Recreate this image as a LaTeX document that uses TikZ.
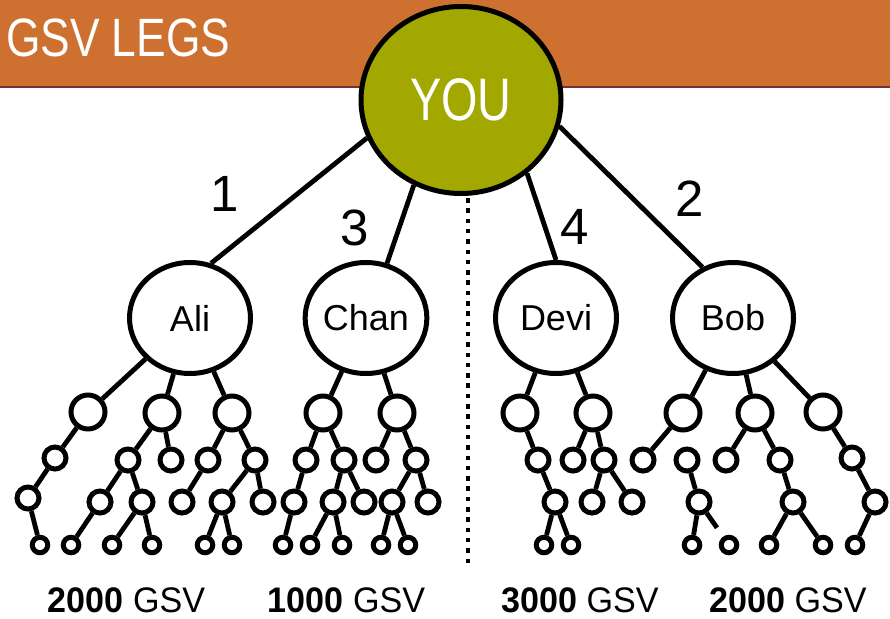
\documentclass[tikz,border=0pt]{standalone}
\usepackage{fontspec}
\setmainfont{Liberation Sans}
\newfontfamily\condfont[FakeStretch=0.78]{Liberation Sans}
\newfontfamily\titlefont[FakeStretch=0.82]{Liberation Sans}
\newfontfamily\totalfont[FakeStretch=0.96]{Liberation Sans}
\usetikzlibrary{shapes.geometric,calc}
\definecolor{hdr}{RGB}{205,112,48}
\definecolor{hdrline}{RGB}{120,45,55}
\definecolor{olive}{RGB}{162,168,0}
\begin{document}
\begin{tikzpicture}[x=1pt,y=-1pt,
  nd/.style={draw,line width=5pt,circle,inner sep=0pt,fill=white},
  lone/.style={nd,minimum size=34pt},
  ltwo/.style={nd,minimum size=22pt},
  lfour/.style={nd,minimum size=15.5pt},
  person/.style={draw,line width=5pt,ellipse,inner sep=0pt,minimum width=121pt,minimum height=111pt,font=\fontsize{36}{40}\selectfont},
  edge/.style={line width=4.8pt},
  num/.style={font=\fontsize{51}{55}\selectfont,inner sep=0pt},
  total/.style={font=\totalfont\fontsize{35.5}{40}\selectfont,inner sep=0pt}]
\useasboundingbox (0,0) rectangle (890,618);
% header
\fill[hdr] (0,0) rectangle (890,86);
\draw[hdrline,line width=2.5pt] (0,87) -- (890,87);
\node[anchor=west,text=white,font=\titlefont\fontsize{54}{60}\selectfont,inner sep=0pt] (title) at (6,38) {GSV LEGS};
% root
\node[ellipse,draw,line width=5pt,fill=olive,minimum width=200pt,minimum height=187pt,inner sep=0pt,text=white,font=\condfont\fontsize{60}{66}\selectfont] (you) at (461,100) {YOU};
% legs
\node[person] (ali) at (190,318) {Ali};
\node[person] (chan) at (366,318) {Chan};
\node[person] (devi) at (556,318) {Devi};
\node[person] (bob) at (733,318) {Bob};
\draw[edge] (you.-158) -- (ali.69);
\draw[edge] (you.-119) -- (chan.69);
\draw[edge] (you.-48) -- (devi.90);
\draw[edge] (you.-15) -- (bob.121);
\node[num] (n1) at (225,194) {1};
\node[num] (n3) at (355,228) {3};
\node[num] (n4) at (575,227) {4};
\node[num] (n2) at (690,199) {2};
% divider
\coordinate (dtop) at (468,198);
\coordinate (dbot) at (468,566);
\draw[line width=4.5pt,dash pattern=on 4.5pt off 5.8pt] (dtop) -- (dbot);
% Ali subtree
\node[lone] (a1) at (88,412) {};
\node[lone] (a2) at (162,413) {};
\node[lone] (a3) at (232,413) {};
\node[ltwo] (a11) at (55,458) {};
\node[ltwo] (a111) at (28,498) {};
\node[lfour] (a1111) at (40,545) {};
\node[ltwo] (a21) at (128,460) {};
\node[ltwo] (a22) at (171,460) {};
\node[ltwo] (a211) at (100,502) {};
\node[lfour] (a2111) at (71,545) {};
\node[ltwo] (a212) at (142,502) {};
\node[lfour] (a2121) at (112,545) {};
\node[lfour] (a2122) at (152,545) {};
\node[ltwo] (a31) at (208,460) {};
\node[ltwo] (a311) at (182,502) {};
\node[ltwo] (a32) at (255,460) {};
\node[ltwo] (a321) at (222,502) {};
\node[lfour] (a3211) at (205,545) {};
\node[lfour] (a3212) at (232,545) {};
\node[ltwo] (a322) at (263,502) {};
\draw[edge] (ali) -- (a1);
\draw[edge] (ali) -- (a2);
\draw[edge] (ali) -- (a3);
\draw[edge] (a1) -- (a11);
\draw[edge] (a11) -- (a111);
\draw[edge] (a111) -- (a1111);
\draw[edge] (a2) -- (a21);
\draw[edge] (a2) -- (a22);
\draw[edge] (a21) -- (a211);
\draw[edge] (a211) -- (a2111);
\draw[edge] (a21) -- (a212);
\draw[edge] (a212) -- (a2121);
\draw[edge] (a212) -- (a2122);
\draw[edge] (a3) -- (a31);
\draw[edge] (a31) -- (a311);
\draw[edge] (a3) -- (a32);
\draw[edge] (a32) -- (a321);
\draw[edge] (a321) -- (a3211);
\draw[edge] (a321) -- (a3212);
\draw[edge] (a32) -- (a322);
% Chan subtree
\node[lone] (c1) at (323,413) {};
\node[lone] (c2) at (397,413) {};
\node[ltwo] (c11) at (306,460) {};
\node[ltwo] (c111) at (294,502) {};
\node[lfour] (c1111) at (283,545) {};
\node[ltwo] (c12) at (344,460) {};
\node[ltwo] (c121) at (333,502) {};
\node[lfour] (c1211) at (310,545) {};
\node[lfour] (c1212) at (342,545) {};
\node[ltwo] (c122) at (364,502) {};
\node[ltwo] (c21) at (376,460) {};
\node[ltwo] (c22) at (416,460) {};
\node[ltwo] (c221) at (392,502) {};
\node[lfour] (c2211) at (381,545) {};
\node[lfour] (c2212) at (408,545) {};
\node[ltwo] (c222) at (428,502) {};
\draw[edge] (chan) -- (c1);
\draw[edge] (chan) -- (c2);
\draw[edge] (c1) -- (c11);
\draw[edge] (c11) -- (c111);
\draw[edge] (c111) -- (c1111);
\draw[edge] (c1) -- (c12);
\draw[edge] (c12) -- (c121);
\draw[edge] (c121) -- (c1211);
\draw[edge] (c121) -- (c1212);
\draw[edge] (c12) -- (c122);
\draw[edge] (c2) -- (c21);
\draw[edge] (c2) -- (c22);
\draw[edge] (c22) -- (c221);
\draw[edge] (c221) -- (c2211);
\draw[edge] (c221) -- (c2212);
\draw[edge] (c22) -- (c222);
% Devi subtree
\node[lone] (d1) at (520,413) {};
\node[ltwo] (d11) at (538,460) {};
\node[ltwo] (d111) at (555,502) {};
\node[lfour] (d1111) at (544,545) {};
\node[lfour] (d1112) at (571,545) {};
\node[lone] (d2) at (593,413) {};
\node[ltwo] (d21) at (573,460) {};
\node[ltwo] (d22) at (604,460) {};
\node[ltwo] (d221) at (592,502) {};
\node[ltwo] (d222) at (632,502) {};
\draw[edge] (devi) -- (d1);
\draw[edge] (d1) -- (d11);
\draw[edge] (d11) -- (d111);
\draw[edge] (d111) -- (d1111);
\draw[edge] (d111) -- (d1112);
\draw[edge] (devi) -- (d2);
\draw[edge] (d2) -- (d21);
\draw[edge] (d2) -- (d22);
\draw[edge] (d22) -- (d221);
\draw[edge] (d22) -- (d222);
% Bob subtree
\node[lone] (b1) at (683,413) {};
\node[ltwo] (b11) at (643,460) {};
\node[ltwo] (o1) at (687,460) {};
\node[ltwo] (o11) at (699,502) {};
\node[lfour] (o111) at (692,545) {};
\node[lfour] (o12) at (729,545) {};
\node[lone] (b2) at (755,413) {};
\node[ltwo] (b21) at (726,460) {};
\node[ltwo] (b22) at (780,460) {};
\node[ltwo] (b221) at (793,502) {};
\node[lfour] (b2211) at (769,545) {};
\node[lfour] (b2212) at (823,545) {};
\node[lone] (b3) at (823,412) {};
\node[ltwo] (b31) at (852,458) {};
\node[ltwo] (b311) at (875,502) {};
\node[lfour] (b3111) at (855,545) {};
\draw[edge] (bob) -- (b1);
\draw[edge] (b1) -- (b11);
\draw[edge] (o1) -- (o11);
\draw[edge] (o11) -- (o111);
\coordinate (brk) at ($(o11.center)!0.6!(o12.center)$);
\draw[edge] (o11) -- (brk);
\draw[edge] (bob) -- (b2);
\draw[edge] (b2) -- (b21);
\draw[edge] (b2) -- (b22);
\draw[edge] (b22) -- (b221);
\draw[edge] (b221) -- (b2211);
\draw[edge] (b221) -- (b2212);
\draw[edge] (bob) -- (b3);
\draw[edge] (b3) -- (b31);
\draw[edge] (b31) -- (b311);
\draw[edge] (b311) -- (b3111);
% totals
\node[total] (t1) at (126.5,600) {\textbf{2000} GSV};
\node[total] (t2) at (346.5,600) {\textbf{1000} GSV};
\node[total] (t3) at (580,600) {\textbf{3000} GSV};
\node[total] (t4) at (788,600) {\textbf{2000} GSV};
\end{tikzpicture}
\end{document}
